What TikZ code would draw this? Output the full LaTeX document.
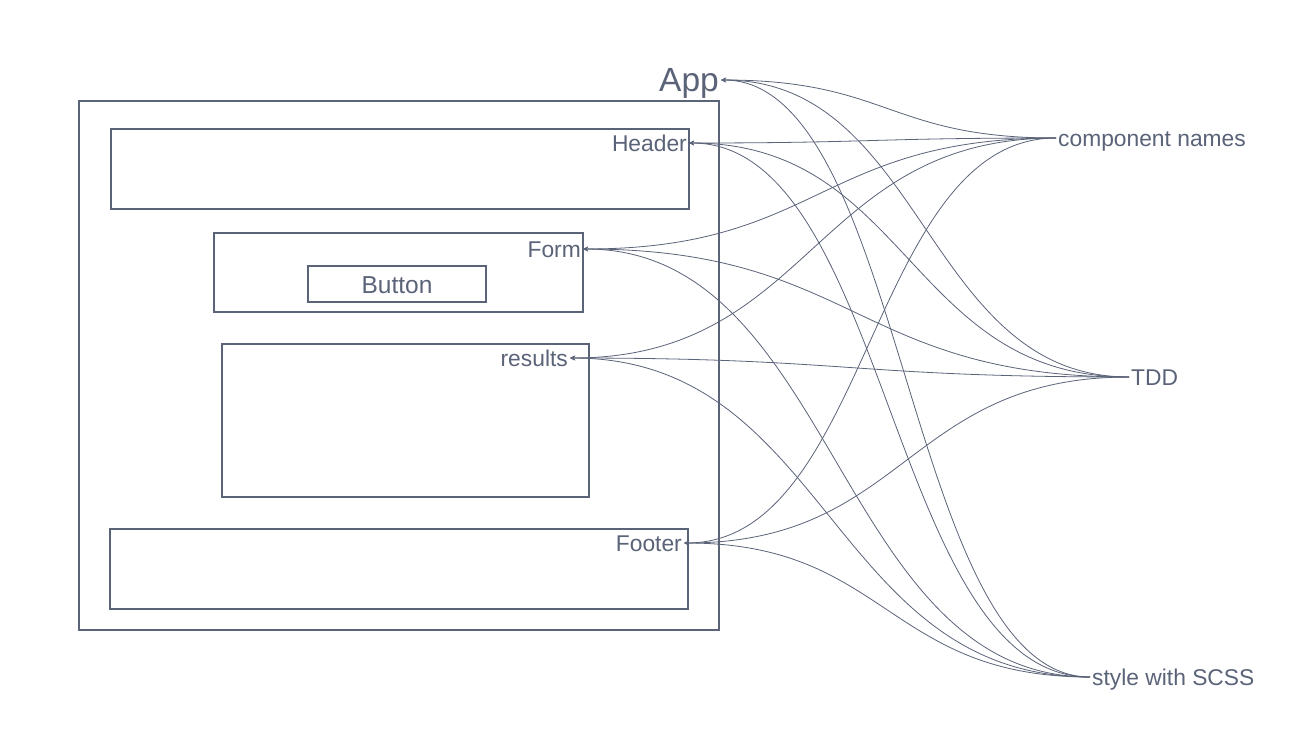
\documentclass[tikz,border=0pt]{standalone}
\usepackage{fontspec}
\setmainfont{Liberation Sans}
\usetikzlibrary{arrows.meta,calc}
\definecolor{ink}{RGB}{90,99,120}
\tikzset{
  box/.style={draw=ink, line width=1.8pt},
  lbl/.style={text=ink, inner xsep=2pt, inner ysep=0pt, text height=16.2pt, text depth=0pt,
              font=\fontsize{22.8pt}{27pt}\selectfont},
  conn/.style={draw=ink, line width=0.8pt, -{Stealth[length=5pt,width=4.5pt]}},
}
\newcommand\myconn[2]{\draw[conn] let \p1=(#1.west), \p2=(#2.east), \n1={0.5*(\x1-\x2)} in (\p1) .. controls +(-\n1,0) and +(\n1,0) .. (\p2);}
\begin{document}
\begin{tikzpicture}[x=1pt,y=-1pt]
\useasboundingbox[fill=white] (0,0) rectangle (1313,739);
% containers
\draw[box] (79,101) rectangle (719,630);
\draw[box] (111,129) rectangle (689,209);
\draw[box] (214,233) rectangle (583,312);
\draw[box] (308,266) rectangle (486,302);
\draw[box] (222,344) rectangle (589,497);
\draw[box] (110,529) rectangle (688,609);
% left labels
\node[lbl, anchor=east, font=\fontsize{33.5pt}{38pt}\selectfont, text height=23.8pt] (app) at (721,80) {App};
\node[lbl, anchor=east] (header) at (689,143) {Header};
\node[lbl, anchor=east] (form) at (583,249) {Form};
\node[lbl, font=\fontsize{24.5pt}{29pt}\selectfont, text height=17.5pt] (button) at (397,285) {Button};
\node[lbl, anchor=east] (results) at (570,358) {results};
\node[lbl, anchor=east] (footer) at (684,543) {Footer};
% right labels
\node[lbl, anchor=west] (cn) at (1056,138) {component names};
\node[lbl, anchor=west] (tdd) at (1129,377) {TDD};
\node[lbl, anchor=west] (scss) at (1090,677) {style with SCSS};
% connectors
\foreach \s in {cn,tdd,scss}{
  \foreach \t in {app,header,form,results,footer}{
    \myconn{\s}{\t}
  }
}
\end{tikzpicture}
\end{document}
